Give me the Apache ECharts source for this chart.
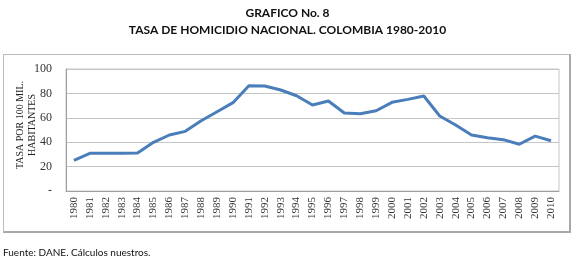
<!DOCTYPE html>
<html>
<head>
<meta charset="utf-8">
<script src="https://cdn.jsdelivr.net/npm/echarts@6/dist/echarts.min.js"></script>
<style>
  html, body { margin: 0; padding: 0; background: #fff; }
  #wrap { position: relative; width: 575px; height: 265px; }
  /* marco exterior del grafico */
  #frame {
    position: absolute; left: 3px; top: 54px; width: 565px; height: 176px;
    border: 1px solid #bcbcbc; border-right: 2px solid #a8a8a8; border-bottom: 2px solid #a8a8a8;
  }
  #chart { position: absolute; left: 0; top: 0; width: 575px; height: 265px; }
</style>
</head>
<body>
<div id="wrap">
  <div id="frame"></div>
  <div id="chart"></div>
</div>
<script>
// años y tasa de homicidio por 100 mil habitantes
var years = ['1980','1981','1982','1983','1984','1985','1986','1987','1988','1989',
             '1990','1991','1992','1993','1994','1995','1996','1997','1998','1999',
             '2000','2001','2002','2003','2004','2005','2006','2007','2008','2009','2010'];
var tasa = [25.2, 30.9, 31.0, 31.0, 31.2, 39.9, 45.9, 48.9, 57.6, 65.0,
            72.4, 86.3, 86.1, 82.8, 78.1, 70.5, 73.8, 63.9, 63.4, 65.8,
            72.7, 75.1, 77.9, 61.5, 54.1, 45.9, 43.7, 42.1, 38.3, 45.0, 41.2];

var chart = echarts.init(document.getElementById('chart'));

var serif = '"Liberation Serif", "DejaVu Serif", serif';
var sans = 'Lato, sans-serif';

chart.setOption({
    animation: false,
    backgroundColor: 'transparent',
    title: [
        {
            text: 'GRAFICO No. 8',
            left: 'center',
            top: 7,
            padding: 0,
            textStyle: { fontFamily: sans, fontWeight: 'bold', fontSize: 12, color: '#111' }
        },
        {
            text: 'TASA DE HOMICIDIO NACIONAL. COLOMBIA 1980-2010',
            left: 'center',
            top: 24,
            padding: 0,
            textStyle: { fontFamily: sans, fontWeight: 'bold', fontSize: 12, color: '#111' }
        },
        {
            text: 'Fuente: DANE. Cálculos nuestros.',
            left: 3,
            top: 248,
            padding: 0,
            textStyle: { fontFamily: sans, fontWeight: 'normal', fontSize: 10, color: '#111' }
        }
    ],
    graphic: {
        elements: [
            {
                type: 'text',
                x: 26,
                y: 125,
                rotation: Math.PI / 2,
                style: {
                    text: 'TASA POR 100 MIL.\nHABITANTES',
                    font: '10px ' + serif,
                    fill: '#222',
                    align: 'center',
                    verticalAlign: 'middle',
                    lineHeight: 12
                }
            }
        ]
    },
    grid: {
        left: 66,
        right: 16,
        top: 69,
        bottom: 74,
        show: true,
        borderColor: '#c6c6c6',
        borderWidth: 1
    },
    xAxis: {
        type: 'category',
        data: years,
        boundaryGap: true,
        axisLine: { lineStyle: { color: '#a0a0a0' } },
        axisTick: { show: false },
        axisLabel: {
            rotate: 90,
            interval: 0,
            fontFamily: serif,
            fontSize: 11,
            color: '#333',
            margin: 6
        }
    },
    yAxis: {
        type: 'value',
        min: 0,
        max: 100,
        interval: 20,
        axisLine: { show: true, lineStyle: { color: '#a0a0a0' } },
        axisTick: { show: false },
        axisLabel: {
            fontFamily: serif,
            fontSize: 12,
            color: '#333',
            margin: 14,
            formatter: function (v) { return v === 0 ? '-' : v; }
        },
        splitLine: { lineStyle: { color: '#c6c6c6', width: 1 } }
    },
    series: [
        {
            name: 'Tasa',
            type: 'line',
            data: tasa,
            symbol: 'none',
            lineStyle: { color: '#4a7ebb', width: 3 }
        }
    ]
});
</script>
</body>
</html>
